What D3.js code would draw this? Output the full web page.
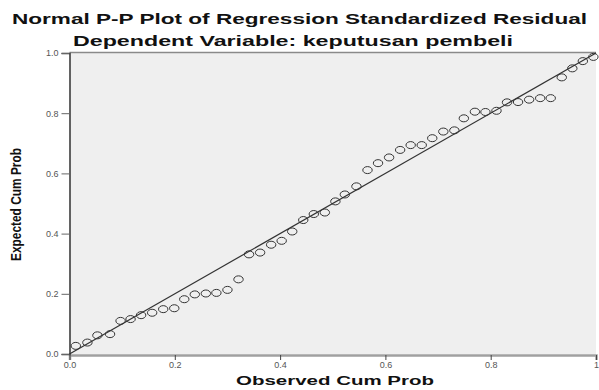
<!DOCTYPE html>
<html><head><meta charset="utf-8">
<script src="https://cdn.jsdelivr.net/npm/d3@7"></script>
<style>body{margin:0;background:#fff}svg{display:block}</style>
</head><body>
<svg id="c" width="599" height="390"></svg>
<script>
const titleMain = "Normal P-P Plot of Regression Standardized Residual";
const titleSub = "Dependent Variable: keputusan pembeli";
const xLabel = "Observed Cum Prob";
const yLabel = "Expected Cum Prob";
const xTicks = [0, 0.2, 0.4, 0.6, 0.8, 1];
const xTickLabels = ["0.0", "0.2", "0.4", "0.6", "0.8", "1"];
const yTicks = [0, 0.2, 0.4, 0.6, 0.8, 1];
const yTickLabels = ["0.0", "0.2", "0.4", "0.6", "0.8", "1.0"];
const observed = [0.012,0.034,0.053,0.077,0.097,0.116,0.136,0.157,0.178,0.199,0.218,0.238,0.259,0.279,0.300,0.321,0.341,0.362,0.383,0.403,0.423,0.444,0.464,0.485,0.505,0.523,0.545,0.566,0.586,0.607,0.628,0.648,0.669,0.689,0.710,0.731,0.749,0.770,0.790,0.811,0.831,0.852,0.873,0.894,0.914,0.935,0.955,0.975,0.995];
const expected = [0.027,0.038,0.062,0.066,0.110,0.116,0.129,0.137,0.149,0.152,0.182,0.198,0.201,0.203,0.213,0.248,0.331,0.337,0.363,0.376,0.407,0.445,0.465,0.470,0.507,0.530,0.557,0.611,0.634,0.653,0.678,0.694,0.694,0.717,0.739,0.743,0.783,0.805,0.804,0.808,0.836,0.837,0.845,0.850,0.850,0.919,0.949,0.973,0.987];

const svg = d3.select("#c");
const L = 69.5, R = 596, T = 53, B = 354;
const x = d3.scaleLinear().domain([0,1]).range([L,R]);
const y = d3.scaleLinear().domain([0,1]).range([B,T]);

svg.append("rect").attr("x",L).attr("y",T).attr("width",R-L).attr("height",B-T).attr("fill","#efefef");
svg.append("line").attr("x1",L).attr("x2",R).attr("y1",T-0.5).attr("y2",T-0.5).attr("stroke","#8a8a8a").attr("stroke-width",1.5);

// diagonal
svg.append("line").attr("x1",x(0)).attr("y1",y(0)).attr("x2",x(1)).attr("y2",y(1))
  .attr("stroke","#333").attr("stroke-width",1.2);

// axes
const xAxis = d3.axisBottom(x).tickValues(xTicks).tickFormat((d,i)=>xTickLabels[i]).tickSize(5).tickPadding(2);
const gx = svg.append("g").attr("transform",`translate(0,${B+1})`).call(xAxis);
gx.select(".domain").attr("stroke","#a0a0a0").attr("stroke-width",2.5);
gx.selectAll(".tick line").attr("stroke","#444");
gx.selectAll("text").attr("font-family","Liberation Sans, Arial, sans-serif").attr("font-size",9).attr("fill","#555");

const yAxis = d3.axisLeft(y).tickValues(yTicks).tickFormat((d,i)=>yTickLabels[i]).tickSize(8).tickPadding(3);
const gy = svg.append("g").attr("transform",`translate(${L},0)`).call(yAxis);
gy.select(".domain").attr("stroke","#333").attr("stroke-width",1.5);
gy.selectAll(".tick line").attr("stroke","#666");
gy.selectAll("text").attr("font-family","Liberation Sans, Arial, sans-serif").attr("font-size",9).attr("fill","#555");

// points
svg.append("g").selectAll("ellipse").data(observed).join("ellipse")
  .attr("cx",(d)=>x(d)).attr("cy",(d,i)=>y(expected[i]))
  .attr("rx",4.7).attr("ry",3.5)
  .attr("fill","none").attr("stroke","#333").attr("stroke-width",1);

// titles
svg.append("text").attr("x",12).attr("y",24).attr("textLength",575).attr("lengthAdjust","spacingAndGlyphs")
  .attr("font-family","Liberation Sans, Arial, sans-serif").attr("font-weight","bold").attr("font-size",15).attr("fill","#111").text(titleMain);
svg.append("text").attr("x",73).attr("y",46).attr("textLength",440).attr("lengthAdjust","spacingAndGlyphs")
  .attr("font-family","Liberation Sans, Arial, sans-serif").attr("font-weight","bold").attr("font-size",15).attr("fill","#111").text(titleSub);
svg.append("text").attr("x",236).attr("y",385).attr("textLength",198).attr("lengthAdjust","spacingAndGlyphs")
  .attr("font-family","Liberation Sans, Arial, sans-serif").attr("font-weight","bold").attr("font-size",12.5).attr("fill","#111").text(xLabel);
svg.append("text").attr("transform","translate(21,261) rotate(-90)").attr("textLength",113).attr("lengthAdjust","spacingAndGlyphs")
  .attr("font-family","Liberation Sans, Arial, sans-serif").attr("font-weight","bold").attr("font-size",14).attr("fill","#111").text(yLabel);
</script>
</body></html>
